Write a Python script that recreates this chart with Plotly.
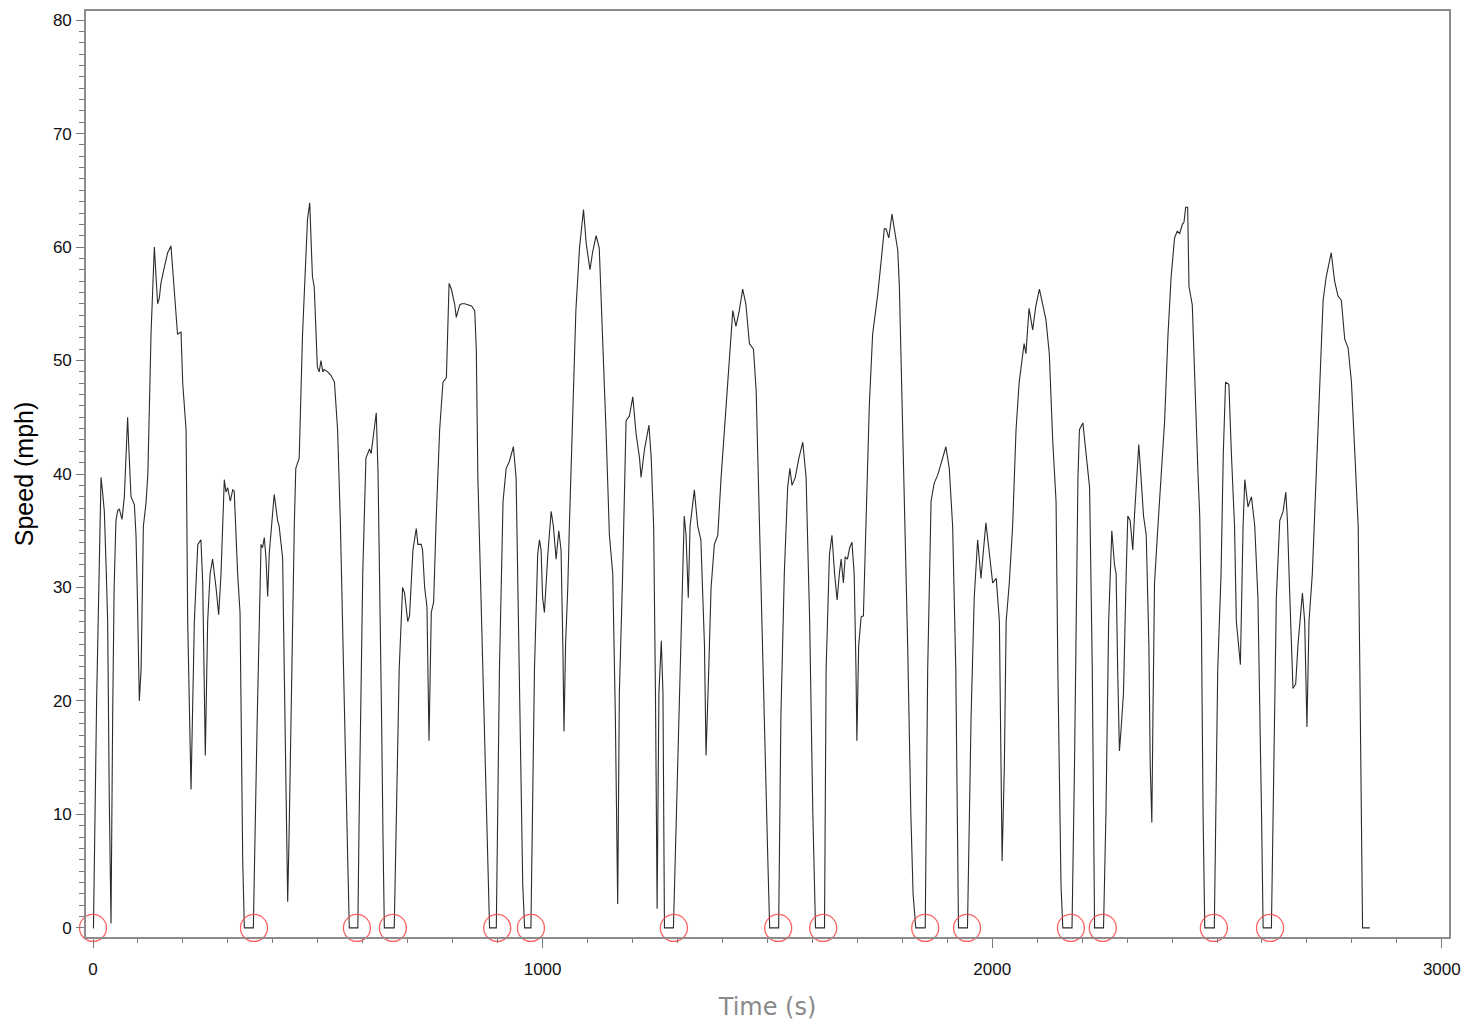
import plotly.graph_objects as go

# ---- Drive-cycle speed trace (time in s, speed in mph) ----
time_s = [
    0, 1, 8, 14, 17.8, 21, 25.2, 29, 32.6, 36, 40, 43.7, 47, 51, 55, 58.6, 62, 64.5, 69.7, 74, 77, 80, 84.5, 92,
    95.6, 99, 103, 107, 112, 118, 122, 129, 133, 136.4, 140, 143.8, 147.5, 151, 158.6, 166, 173.4, 180.8, 188, 191,
    195.8, 199.5, 207, 210.6, 218, 225.4, 233, 240, 244, 249.8, 255, 260.4, 266, 273.6, 279.5, 284.7, 292, 295.8,
    299.5, 305.4, 310.6, 314, 321.7, 327, 333, 336.6,
    356.6, 365, 373.7, 377, 381, 384.7, 388.5, 392, 397, 403, 410.6, 414, 421.7, 425.4, 429, 433, 436, 440, 447.7,
    451, 458.6, 466, 472, 477, 482, 488, 492, 499, 503, 507, 511, 514, 522, 529, 537, 544, 550, 555.4, 566.5, 570,
    589, 592, 596, 600, 607, 615, 618.6, 624, 630, 634, 638, 642, 645, 648,
    670, 675, 681, 688.6, 693, 700, 704, 711.6, 719, 722.6, 730, 733, 737.6, 742.8, 747.3, 752.4, 757.6, 763.5, 771,
    778.4, 786, 792, 797, 804.6, 808, 815.7, 820, 826.8, 834, 842, 849, 852.5, 856, 867.5, 878.5, 882,
    897, 904, 912, 919, 926, 935, 941, 948, 955.8, 960,
    974, 981.9, 989, 993, 996.6, 1000, 1004, 1011.6, 1019, 1024, 1030, 1036, 1041, 1045, 1047.6, 1051, 1056, 1059.5,
    1067, 1074, 1082, 1091, 1097, 1105.4, 1111, 1119, 1126, 1133.6, 1141, 1148.6, 1156, 1161.8, 1167, 1170.7, 1178,
    1185.6, 1193, 1200.6, 1208, 1215.6, 1219, 1226.7, 1236.5, 1241.6, 1247, 1251, 1254.7, 1258.7, 1264, 1267.7, 1271,
    1291, 1300.4, 1308, 1315, 1319, 1324, 1328, 1337.5, 1345, 1352, 1360, 1363.5, 1369.5, 1374.7, 1382, 1389.6, 1397,
    1404.5, 1412, 1419, 1423, 1430, 1437.5, 1445, 1452, 1460, 1469, 1475, 1482, 1490, 1501, 1505,
    1525, 1530, 1537.6, 1545, 1550, 1554.7, 1562, 1570, 1578.7, 1586, 1594, 1601, 1607,
    1627, 1630.6, 1638, 1643.5, 1649.5, 1655, 1660, 1664, 1669, 1673, 1678, 1683, 1688, 1693, 1697, 1699, 1703,
    1708.5, 1713.5, 1719, 1726.6, 1734, 1745, 1752.6, 1760, 1764, 1770, 1777, 1782, 1790, 1793.5, 1801, 1807, 1812,
    1819, 1824, 1830,
    1851, 1856.5, 1864, 1871, 1878.7, 1886, 1897, 1904.5, 1912, 1919, 1925,
    1945, 1953, 1960, 1967.6, 1975, 1986, 1994, 2001, 2009, 2016, 2022, 2027, 2031, 2038, 2045.4, 2053, 2060, 2067.6,
    2071, 2075, 2082, 2090, 2097, 2105, 2112, 2119.5, 2127, 2134.5, 2142, 2146, 2153, 2157,
    2177.5, 2183, 2190.7, 2194, 2201.7, 2209, 2216.6, 2222.6, 2227.7,
    2247.6, 2253, 2259, 2266, 2272, 2275.6, 2279, 2283, 2287, 2292, 2298, 2301.6, 2306.8, 2312.7, 2316.4, 2321.5,
    2326, 2331, 2336.6, 2342.6, 2348.5, 2351.5, 2355, 2357.5, 2361, 2368.6, 2376, 2383.5, 2391, 2398, 2405.6, 2411.5,
    2417, 2423, 2426.6, 2430.3, 2434.7, 2437.7, 2445, 2450.4, 2458, 2461.6, 2465.3, 2469, 2472.8,
    2494, 2501.6, 2509, 2514, 2519, 2526.4, 2532, 2539, 2543, 2552, 2558, 2561.8, 2569, 2576.6, 2584, 2591, 2599,
    2602.6,
    2621, 2624.8, 2632, 2639.6, 2647, 2653, 2656.6, 2662, 2669, 2675, 2680, 2690, 2695, 2700, 2704.6, 2712, 2721,
    2728.4, 2736, 2743, 2754, 2761.6, 2769, 2776.6, 2784, 2791.6, 2799, 2806.6, 2814, 2817.7, 2823.7, 2840,
]

speed_mph = [
    0, 0, 20, 34, 39.7, 38.5, 36.7, 32, 27, 12, 0.4, 18.6, 30, 35.9, 36.8, 36.9, 36.2, 36, 38, 42, 45, 42, 38, 37.3,
    34.6, 28.7, 20, 22.8, 35.4, 37.5, 40, 52.3, 57, 60, 57.5, 55, 55.5, 56.8, 58.2, 59.5, 60.1, 56.5, 52.3, 52.4,
    52.5, 48, 43.9, 27, 12.2, 27, 33.8, 34.2, 30.4, 15.2, 27, 31.2, 32.5, 30, 27.6, 31.2, 39.5, 38.4,
    38.8, 37.6, 38.6, 38.5, 31.2, 27.8, 5.9, 0,
    0, 18, 33.8, 33.5, 34.4, 32.6, 29.2, 33, 35.5, 38.2, 35.9, 35.4, 32.6, 22.9, 10, 2.3, 8, 18.7, 35.5,
    40.5, 41.4, 52.3, 58, 62.4, 63.9, 57.4, 56.5, 49.4, 49, 50, 49, 49.2, 49, 48.7, 48.1, 43.9, 36, 27.1, 6.1, 0,
    0, 10, 22, 31.3, 41.4, 42.2, 41.8, 43.5, 45.4, 40, 30, 18, 8, 0,
    0, 10, 22.8, 30, 29.5, 27, 27.5, 33.3, 35.2, 33.8, 33.8, 33.3, 30, 28.3, 16.5, 27.8, 28.7, 36.3, 43.9,
    48.1, 48.5, 56.8, 56.3, 54.9, 53.8, 54.9, 55, 55, 54.9, 54.8, 54.4, 51, 39.7, 22.8, 5.9, 0,
    0, 22.8, 37.6, 40.5, 41.1, 42.4, 39.7, 22.8, 3.8, 0,
    0, 22.8, 32.9, 34.2, 33.3, 29.1, 27.8, 32.9, 36.7, 35.4, 32.5, 35, 33.3, 24.9, 17.3, 24.9, 30, 35.4,
    46, 54.4, 59.9, 63.3, 60.3, 58, 59.5, 61, 59.9, 52.3, 43.9, 34.6, 31.2, 18.6, 2.1, 20.7, 31.2,
    44.7, 45.1, 46.8, 43.5, 41.4, 39.7, 42.2, 44.3, 41.4, 35.4, 20.7, 1.7, 20.7, 25.3, 20.7, 0,
    0, 14.3, 27, 36.3, 34.6, 29.1, 35.4, 38.6, 35.4, 34.2, 24.9, 15.2, 22.8, 30, 33.8, 34.6, 39.7,
    43.9, 48.9, 52.7, 54.4, 53, 54.4, 56.3, 55, 51.5, 51, 47.3, 35.4, 22.8, 5.9, 0,
    0, 18.6, 31.2, 38.8, 40.5, 39, 39.7, 41.4, 42.8, 39.7, 27, 10.1, 0,
    0, 22.8, 32.9, 34.6, 31.2, 28.9, 31.2, 32.5, 30.4, 32.7, 32.5, 33.5, 34, 31.2, 22.8, 16.5, 24.9,
    27.4, 27.5, 35.4, 46, 52.3, 55.7, 58.6, 61.6, 61.6, 60.8, 62.9, 61.6, 59.7, 56.5, 43.9, 35.4, 24.9,
    10.1, 3, 0,
    0, 22.8, 37.6, 39.2, 39.9, 40.9, 42.4, 40.5, 35.4, 22.8, 0,
    0, 18.6, 29.1, 34.2, 30.8, 35.7, 32.9, 30.4, 30.8, 27, 5.9, 14.3, 27, 30.4, 35.4, 43.9, 48.1, 50.6,
    51.5, 50.6, 54.6, 52.7, 54.8, 56.3, 55, 53.6, 50.6, 43, 37.6, 22.8, 3.8, 0,
    0, 14.3, 39.7, 43.9, 44.5, 41.4, 38.8, 22.8, 0,
    0, 10.1, 27, 35, 32, 31.2, 22.8, 15.6, 17.7, 20.7, 31.2, 36.3, 35.9, 33.3, 36.3, 39.7,
    42.6, 39.7, 36.3, 34.6, 24.9, 14.3, 9.3, 18.6, 30.4, 35.4, 40.5, 44.7, 52.3, 57.4, 60.8, 61.4,
    61.2, 62, 62.2, 63.5, 63.5, 56.5, 54.9, 48.1, 39.7, 36.3, 27, 10.1, 0,
    0, 22.8, 31.2, 41.8, 48.1, 47.9, 41.8, 35.4, 27, 23.2, 35.4, 39.5, 37.1, 38, 35.4, 29.1, 10.1,
    0,
    0, 10.1, 29.1, 35.9, 36.7, 38.4, 35.9, 29.1, 21.1, 21.5, 24.9, 29.5, 27, 17.7, 27, 31.2, 39.7,
    48.1, 55.3, 57.4, 59.5, 57, 55.7, 55.3, 51.9, 51.1, 48.1, 41.8, 35.4, 22.8, 0, 0,
]

# Stops marked with red circles (time in s, speed 0)
stop_times = [0, 358, 587, 667, 899, 974, 1292, 1524, 1624, 1851, 1944, 2175, 2246, 2493, 2618]
stop_speeds = [0] * len(stop_times)

x_ticks = [0, 1000, 2000, 3000]
y_ticks = [0, 10, 20, 30, 40, 50, 60, 70, 80]

fig = go.Figure()
fig.add_trace(go.Scatter(
    x=time_s, y=speed_mph, mode="lines",
    line=dict(color="#2b2b2b", width=1.1),
    showlegend=False, hoverinfo="skip",
))
fig.add_trace(go.Scatter(
    x=stop_times, y=stop_speeds, mode="markers",
    marker=dict(symbol="circle-open", size=27, color="rgba(255,70,70,0.85)",
                line=dict(width=1.3, color="rgba(255,70,70,0.85)")),
    showlegend=False, hoverinfo="skip", cliponaxis=False,
))

axis_line = "#8c8c8c"
fig.update_layout(
    width=1471, height=1025,
    margin=dict(l=86, r=22, t=9, b=88),
    paper_bgcolor="white", plot_bgcolor="white",
    font=dict(family="Liberation Sans, Arial, sans-serif", color="#111111"),
    xaxis=dict(
        range=[-15.6, 3016], tickmode="array", tickvals=x_ticks,
        ticktext=[str(v) for v in x_ticks],
        ticks="outside", ticklen=9, tickwidth=1.3, tickcolor="#7a7a7a",
        minor=dict(dtick=100, ticks="outside", ticklen=4, tickwidth=1.2, tickcolor="#7a7a7a", showgrid=False),
        showline=True, linecolor=axis_line, linewidth=1.6, mirror=True,
        showgrid=False, zeroline=False, ticklabelstandoff=7,
        tickfont=dict(size=17, family="Liberation Sans, Arial, sans-serif", color="#111111"),
        title=dict(text="Time (s)", standoff=20,
                   font=dict(size=24, family="DejaVu Sans, Verdana, sans-serif", color="#8a8a8a")),
    ),
    yaxis=dict(
        range=[-0.8, 80.8], tickmode="array", tickvals=y_ticks,
        ticktext=[str(v) for v in y_ticks],
        ticks="outside", ticklen=8, tickwidth=1.3, tickcolor="#7a7a7a",
        minor=dict(dtick=1, ticks="outside", ticklen=5, tickwidth=1.2, tickcolor="#7a7a7a", showgrid=False),
        showline=True, linecolor=axis_line, linewidth=1.6, mirror=True,
        showgrid=False, zeroline=False, ticklabelstandoff=1,
        tickfont=dict(size=17, family="Liberation Sans, Arial, sans-serif", color="#111111"),
        title=dict(text="Speed (mph)", standoff=12,
                   font=dict(size=25, family="Liberation Sans, Arial, sans-serif", color="#000000")),
    ),
)

fig.write_html("out.html", config={"displayModeBar": False},
               post_script="document.body.style.margin='0';")
